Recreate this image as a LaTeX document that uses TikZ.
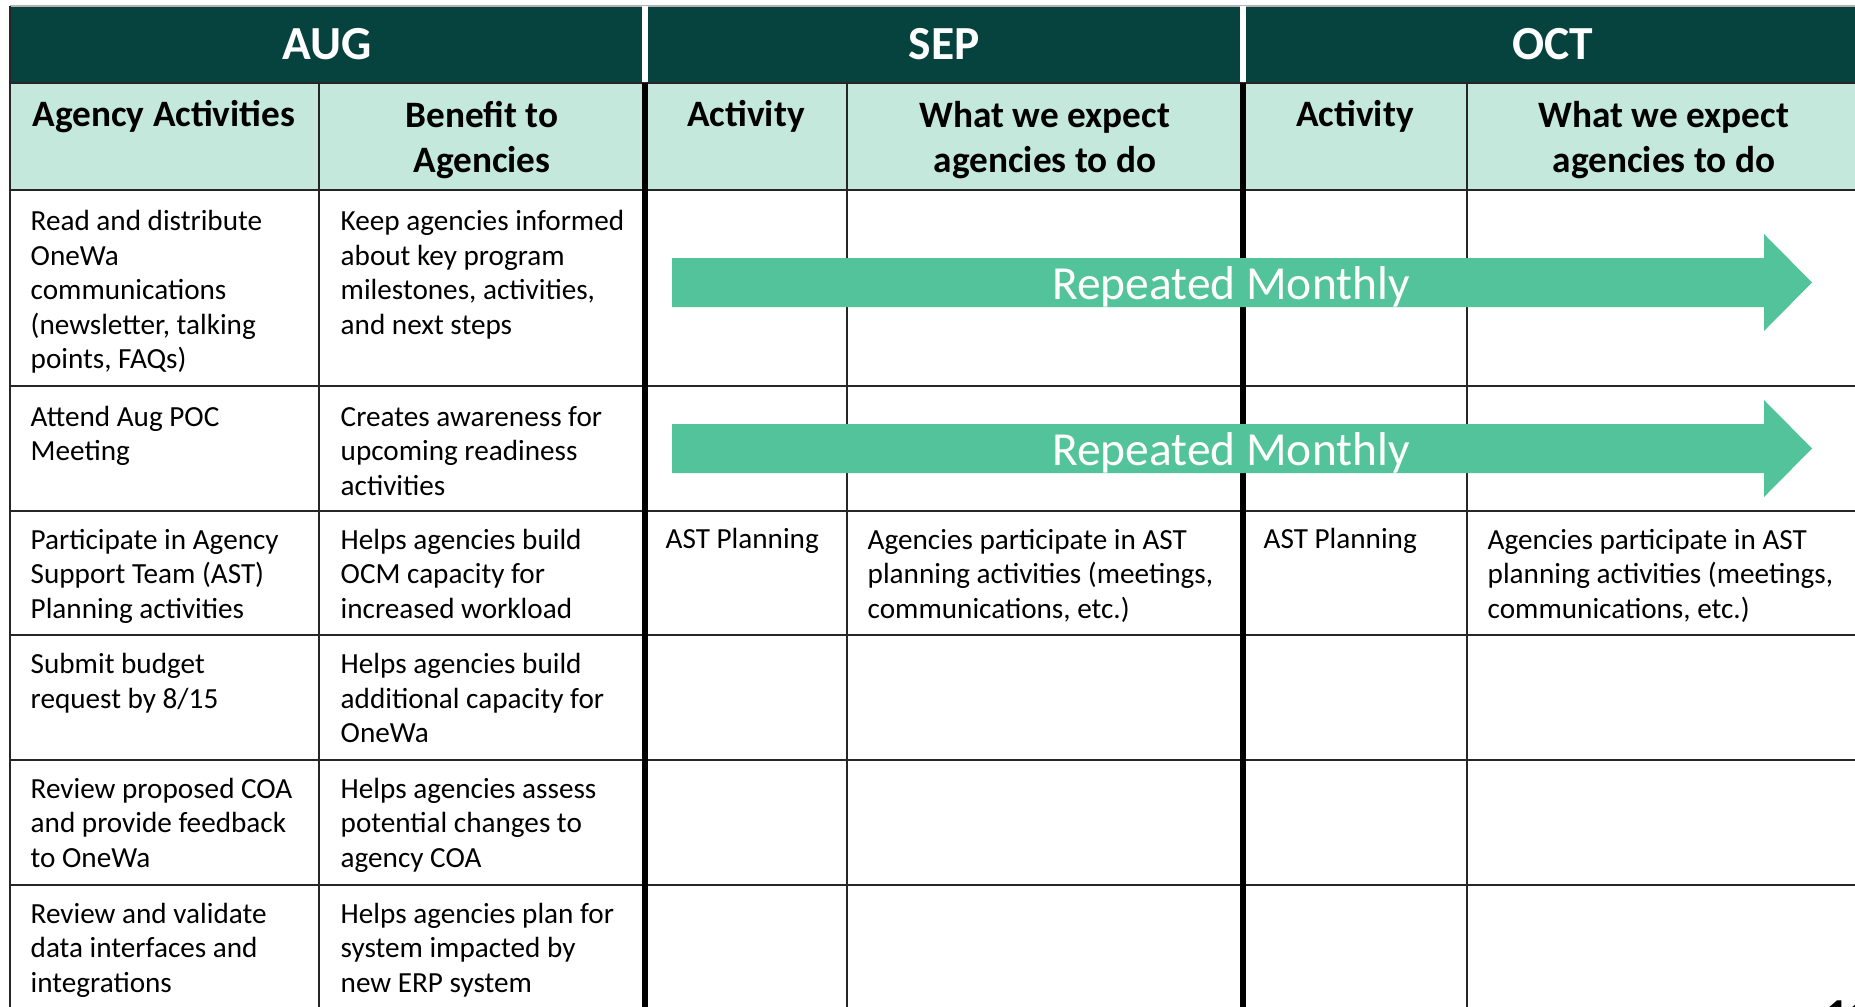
\documentclass[tikz,border=0pt]{standalone}
\usepackage{fontspec}
\setmainfont{Carlito}

\definecolor{monthgreen}{RGB}{6,66,62}
\definecolor{headmint}{RGB}{196,232,220}
\definecolor{repeatgreen}{RGB}{82,195,154}

\tikzstyle{month} = [text=white, inner sep=0pt, font=\fontsize{13.5}{16}\selectfont\bfseries]
\tikzstyle{colhead} = [anchor=north, align=center, inner sep=0pt, font=\fontsize{10.6}{12.8}\selectfont\bfseries, execute at begin node=\strut]
\tikzstyle{cell} = [anchor=north west, align=left, inner sep=0pt, font=\fontsize{8.3}{9.8}\selectfont, execute at begin node=\strut]
\tikzstyle{reptext} = [text=white, inner sep=0pt, font=\fontsize{13.5}{16}\selectfont]
\tikzstyle{grid} = [line width=0.55pt, black!85]
\tikzstyle{thickgrid} = [line width=1.8pt, black]

\begin{document}
\begin{tikzpicture}[x=0.01cm, y=-0.01cm]

\useasboundingbox (0,0) rectangle (1855,1006);
\fill[white] (0,0) rectangle (1855,1006);

% header bands
\fill[monthgreen] (10,6) rectangle (1862,83);
\fill[headmint] (10,83) rectangle (1862,190);
\draw[grid, black!30] (10,6) -- (1862,6);

% grid lines
\draw[grid] (10,83) -- (1862,83);
\draw[grid] (10,190) -- (1862,190);
\draw[grid] (10,386) -- (1862,386);
\draw[grid] (10,511) -- (1862,511);
\draw[grid] (10,635) -- (1862,635);
\draw[grid] (10,760) -- (1862,760);
\draw[grid] (10,885) -- (1862,885);
\draw[grid] (10,6) -- (10,1010);
\draw[grid] (319,83) -- (319,1010);
\draw[grid] (847,83) -- (847,1010);
\draw[grid] (1467,83) -- (1467,1010);
\draw[thickgrid] (645,83) -- (645,1010);
\draw[thickgrid] (1243,83) -- (1243,1010);
\draw[thickgrid, white] (645,6) -- (645,82);
\draw[thickgrid, white] (1243,6) -- (1243,82);

% months
\node (aug) [month] at (327,44) {AUG};
\node (sep) [month] at (944,44) {SEP};
\node (oct) [month] at (1553,44) {OCT};

% column heads
\node (hact) [colhead] at (164,94.5) {Agency Activities};
\node (hben) [colhead] at (482,101) {Benefit to\\Agencies};
\node (hsepact) [colhead] at (746,94.5) {Activity};
\node (hsepexp) [colhead] at (1045,101) {What we expect\\agencies to do};
\node (hoctact) [colhead] at (1355,94.5) {Activity};
\node (hoctexp) [colhead] at (1664,101) {What we expect\\agencies to do};

% agency activities
\node (act1) [cell] at (30,210) {Read and distribute\\OneWa\\communications\\(newsletter, talking\\points, FAQs)};
\node (act2) [cell] at (30,405.5) {Attend Aug POC\\Meeting};
\node (act3) [cell] at (30,528.5) {Participate in Agency\\Support Team (AST)\\Planning activities};
\node (act4) [cell] at (30,653) {Submit budget\\request by 8/15};
\node (act5) [cell] at (30,777.5) {Review proposed COA\\and provide feedback\\to OneWa};
\node (act6) [cell] at (30,902.5) {Review and validate\\data interfaces and\\integrations};

% benefits
\node (ben1) [cell] at (340,210) {Keep agencies informed\\about key program\\milestones, activities,\\and next steps};
\node (ben2) [cell] at (340,405.5) {Creates awareness for\\upcoming readiness\\activities};
\node (ben3) [cell] at (340,528.5) {Helps agencies build\\OCM capacity for\\increased workload};
\node (ben4) [cell] at (340,653) {Helps agencies build\\additional capacity for\\OneWa};
\node (ben5) [cell] at (340,777.5) {Helps agencies assess\\potential changes to\\agency COA};
\node (ben6) [cell] at (340,902.5) {Helps agencies plan for\\system impacted by\\new ERP system};

% AST planning, sep and oct
\node (sepast) [cell] at (665,524) {AST Planning};
\node (sepexp) [cell] at (867,528.5) {Agencies participate in AST\\planning activities (meetings,\\communications, etc.)};
\node (octast) [cell] at (1263,524) {AST Planning};
\node (octexp) [cell] at (1487,528.5) {Agencies participate in AST\\planning activities (meetings,\\communications, etc.)};

% repeated monthly arrows
\fill[repeatgreen] (672,258) -- (1764,258) -- (1764,234) -- (1812,282.5) -- (1764,331) -- (1764,307) -- (672,307) -- cycle;
\node (rep1) [reptext] at (1231,286.5) {Repeated Monthly};
\fill[repeatgreen] (672,424) -- (1764,424) -- (1764,400) -- (1812,448.5) -- (1764,497) -- (1764,473) -- (672,473) -- cycle;
\node (rep2) [reptext] at (1231,452.5) {Repeated Monthly};

% page number, cut off
\node (pagenum) [anchor=north west, inner sep=0pt, font=\fontsize{13}{16}\selectfont\bfseries] at (1825,1000) {11};

\end{tikzpicture}
\end{document}
